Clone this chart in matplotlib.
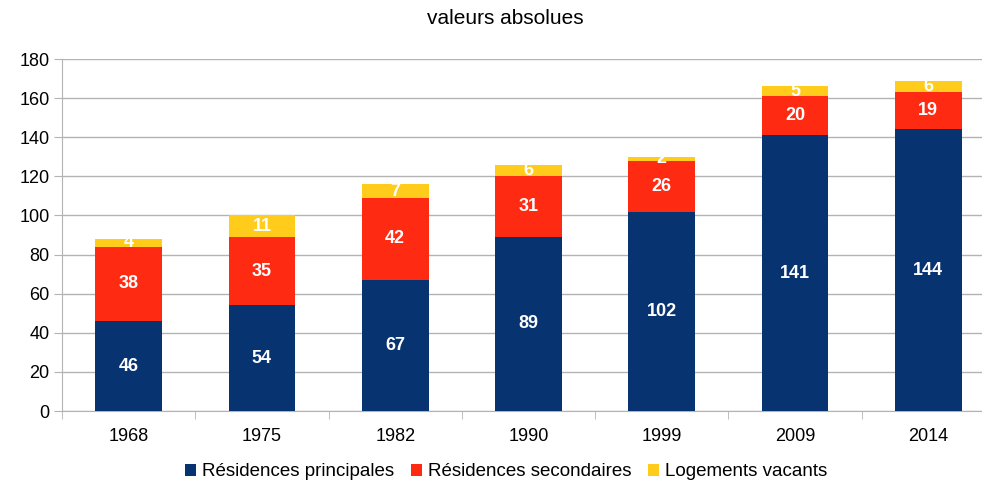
import matplotlib
matplotlib.use("Agg")
import matplotlib.pyplot as plt
import numpy as np

plt.rcParams['font.family'] = ['Liberation Sans', 'DejaVu Sans']

years = ["1968", "1975", "1982", "1990", "1999", "2009", "2014"]
principales = [46, 54, 67, 89, 102, 141, 144]
secondaires = [38, 35, 42, 31, 26, 20, 19]
vacants = [4, 11, 7, 6, 2, 5, 6]
series_names = ["Résidences principales", "Résidences secondaires", "Logements vacants"]
colors = ["#073370", "#ff2a12", "#ffcc1c"]
yticks = [0, 20, 40, 60, 80, 100, 120, 140, 160, 180]

fig = plt.figure(figsize=(9.82, 4.84), dpi=100)
ax = fig.add_axes([62/982, (484-411)/484, 933/982, 352/484])

x = np.arange(len(years))
bottom = np.zeros(len(years))
handles = []
for vals, col, name in zip([principales, secondaires, vacants], colors, series_names):
    vals = np.array(vals, dtype=float)
    b = ax.bar(x, vals, width=0.5, bottom=bottom, color=col, label=name, zorder=3)
    handles.append(b)
    for xi, v, bt in zip(x, vals, bottom):
        ax.text(xi, bt + v/2, f"{int(v)}", ha='center', va='center', color='white',
                fontsize=13, fontweight='bold', zorder=4)
    bottom += vals

ax.set_xlim(-0.5, len(years) - 0.5)
ax.set_ylim(0, 180)
ax.set_yticks(yticks)
ax.set_xticks(x)
ax.set_xticklabels(years)
ax.set_xticks(np.arange(-0.5, len(years), 1.0), minor=True)
ax.tick_params(axis='x', which='major', length=0, pad=12, labelsize=13)
ax.tick_params(axis='x', which='minor', length=6, color='#b3b3b3', direction='out')
ax.tick_params(axis='y', length=6, color='#b3b3b3', direction='out', labelsize=13, pad=3)
ax.yaxis.grid(True, color='#b3b3b3', linewidth=1, zorder=0)
for s in ['top', 'right']:
    ax.spines[s].set_visible(False)
for s in ['left', 'bottom']:
    ax.spines[s].set_color('#b3b3b3')

fig.text(505/982, 1 - 19/484, "valeurs absolues", ha='center', va='center', fontsize=15)

fig.legend(handles=handles, labels=series_names, loc='center', bbox_to_anchor=(506/982, 1 - 472/484),
           ncol=3, frameon=False, fontsize=13.5, handlelength=0.6, handleheight=0.6,
           handletextpad=0.3, columnspacing=0.9)

fig.savefig("out.png", dpi=100)
